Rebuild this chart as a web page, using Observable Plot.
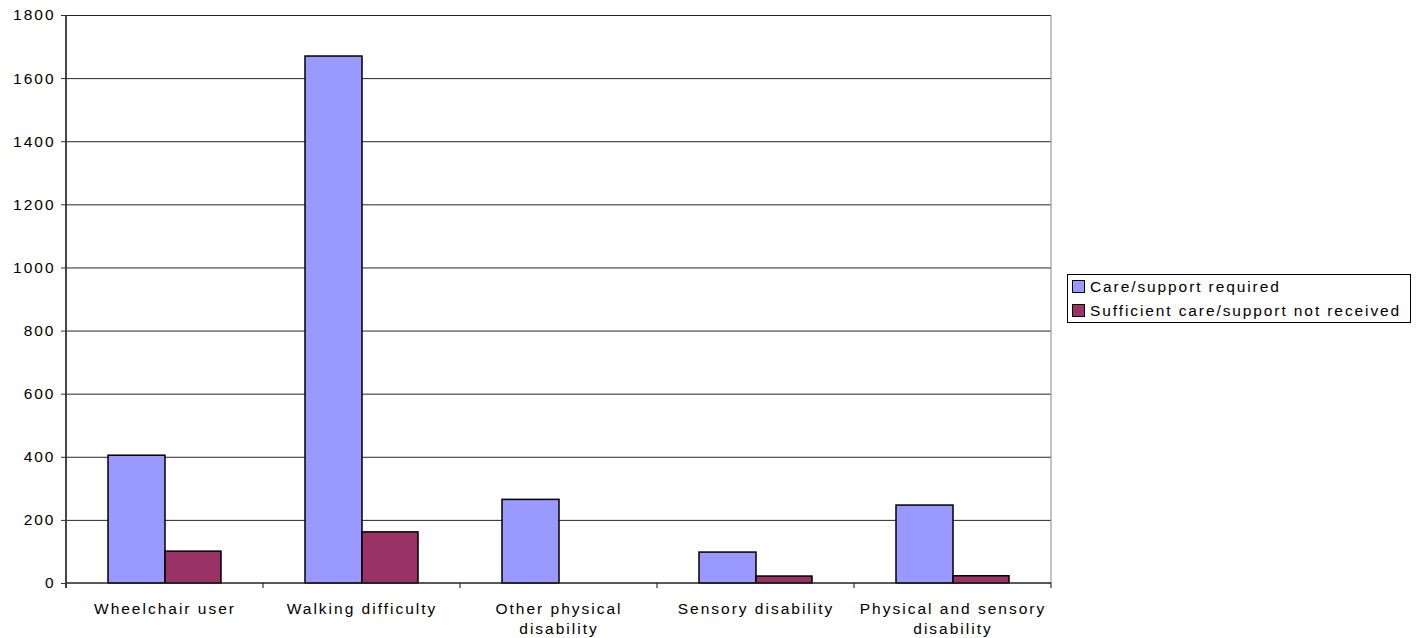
<!DOCTYPE html>
<html><head><meta charset="utf-8">
<script src="https://cdn.jsdelivr.net/npm/d3@7"></script>
<script src="https://cdn.jsdelivr.net/npm/@observablehq/plot@0.6"></script>
<style>
body{margin:0;background:#fff;font-family:"Liberation Sans",Arial,sans-serif;}
#wrap{position:relative;width:1418px;height:638px;overflow:hidden;}
#legend{position:absolute;left:1067px;top:274px;width:344px;height:49px;box-sizing:border-box;border:1px solid #000;padding:0 0 0 4px;font-size:15.5px;letter-spacing:1.9px;color:#000;}
#legend .item{height:23.5px;line-height:23.5px;white-space:nowrap;display:flex;align-items:center;}
#legend .sw{display:inline-block;width:11px;height:11px;border:1px solid #000;margin-right:5px;flex:none;}
</style></head><body><div id="wrap"></div>
<script>
const categories = ["Wheelchair user", "Walking difficulty", "Other physical\ndisability", "Sensory disability", "Physical and sensory\ndisability"];
const series = ["Care/support required", "Sufficient care/support not received"];
const careRequired = [405, 1670, 265, 98, 247];
const notReceived = [101, 162, 0, 22, 23];
const yTicks = [0, 200, 400, 600, 800, 1000, 1200, 1400, 1600, 1800];
const colors = ["#9999ff", "#993366"];

const careData = categories.map((c, i) => ({category: c, series: series[0], value: careRequired[i]})).filter(d => d.value > 0);
const notData = categories.map((c, i) => ({category: c, series: series[1], value: notReceived[i]})).filter(d => d.value > 0);

function frameLines(index, scales, values, dims) {
  const {marginLeft, marginRight, marginTop, marginBottom, width, height} = dims;
  const x0 = marginLeft, x1 = width - marginRight, y0 = marginTop, y1 = height - marginBottom;
  const g = d3.create("svg:g");
  const bw = scales.x.bandwidth ? scales.x.bandwidth() : (x1 - x0) / categories.length;
  const bounds = categories.map(c => scales.x(c)).concat([scales.x(categories[categories.length - 1]) + bw]);
  for (const b of bounds) {
    g.append("line").attr("x1", b).attr("x2", b).attr("y1", y1).attr("y2", y1 + 5).attr("stroke", "#333").attr("stroke-width", 1.2);
  }
  g.append("line").attr("x1", x1).attr("x2", x1).attr("y1", y0).attr("y2", y1).attr("stroke", "#888").attr("stroke-width", 1);
  g.append("line").attr("x1", x0).attr("x2", x1).attr("y1", y1).attr("y2", y1).attr("stroke", "#222").attr("stroke-width", 1.6);
  g.append("line").attr("x1", x0).attr("x2", x0).attr("y1", y0).attr("y2", y1 + 5).attr("stroke", "#333").attr("stroke-width", 1.8);
  return g.node();
}

const chart = Plot.plot({
  width: 1418,
  height: 638,
  marginLeft: 66,
  marginRight: 367,
  marginTop: 15,
  marginBottom: 55,
  x: {domain: categories, padding: 0},
  y: {domain: [0, 1800]},
  style: {fontFamily: '"Liberation Sans", Arial, sans-serif', fontSize: "15.5px", letterSpacing: "2px", color: "#000", background: "#fff", overflow: "visible"},
  marks: [
    Plot.ruleY(yTicks.slice(1), {stroke: "#000", strokeWidth: 1, strokeOpacity: 0.85}),
    Plot.barY(careData, {x: "category", y: "value", fill: colors[0], stroke: "#000", strokeWidth: 1.5, insetLeft: 42, insetRight: 98}),
    Plot.barY(notData, {x: "category", y: "value", fill: colors[1], stroke: "#000", strokeWidth: 1.5, insetLeft: 99, insetRight: 42}),
    Plot.axisY({ticks: yTicks, tickSize: 5, tickPadding: 6, tickFormat: d => String(d), label: null, stroke: "#333"}),
    Plot.axisX({tickSize: 0, tickPadding: 16.5, lineHeight: 1.27, label: null}),
    frameLines
  ]
});

const wrap = document.getElementById("wrap");
wrap.appendChild(chart);
const legend = document.createElement("div");
legend.id = "legend";
series.forEach((s, i) => {
  const item = document.createElement("div");
  item.className = "item";
  const sw = document.createElement("span");
  sw.className = "sw";
  sw.style.background = colors[i];
  item.appendChild(sw);
  item.appendChild(document.createTextNode(s));
  legend.appendChild(item);
});
wrap.appendChild(legend);
</script>
</body></html>
